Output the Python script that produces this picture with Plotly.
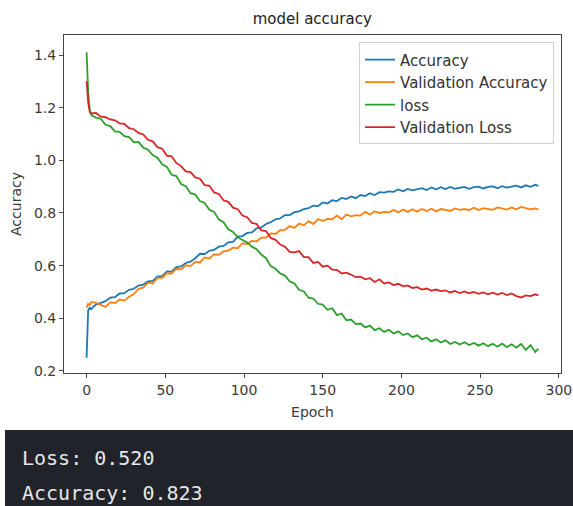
import plotly.graph_objects as go

epochs = [0, 1, 2, 3, 6, 9, 12, 15, 18, 21, 24, 27, 30, 33, 36, 39, 42, 45, 48, 51,
          54, 57, 60, 63, 66, 69, 72, 75, 78, 81, 84, 87, 90, 93, 96, 99, 102, 105, 108, 111,
          114, 117, 120, 123, 126, 129, 132, 135, 138, 141, 144, 147, 150, 153, 156, 159, 162, 165, 168, 171,
          174, 177, 180, 183, 186, 189, 192, 195, 198, 201, 204, 207, 210, 213, 216, 219, 222, 225, 228, 231,
          234, 237, 240, 243, 246, 249, 252, 255, 258, 261, 264, 267, 270, 273, 276, 279, 282, 285, 287]

accuracy = [0.25, 0.43, 0.44, 0.436, 0.452, 0.458, 0.465, 0.478, 0.48, 0.494, 0.495, 0.508, 0.512, 0.524, 0.528, 0.54, 0.542, 0.558, 0.56, 0.578,
            0.577, 0.594, 0.597, 0.61, 0.615, 0.628, 0.645, 0.644, 0.656, 0.66, 0.672, 0.675, 0.688, 0.69, 0.71, 0.712, 0.724, 0.726, 0.742, 0.745,
            0.758, 0.765, 0.776, 0.779, 0.792, 0.792, 0.803, 0.806, 0.815, 0.818, 0.828, 0.826, 0.84, 0.836, 0.848, 0.845, 0.857, 0.853, 0.863, 0.856,
            0.868, 0.864, 0.875, 0.868, 0.879, 0.877, 0.882, 0.88, 0.889, 0.882, 0.891, 0.886, 0.89, 0.894, 0.887, 0.897, 0.89, 0.898, 0.891, 0.899,
            0.892, 0.896, 0.899, 0.892, 0.898, 0.9, 0.893, 0.899, 0.901, 0.894, 0.902, 0.896, 0.9, 0.904, 0.897, 0.905, 0.899, 0.907, 0.903]

val_accuracy = [0.44, 0.455, 0.45, 0.462, 0.458, 0.452, 0.443, 0.46, 0.458, 0.471, 0.467, 0.482, 0.492, 0.512, 0.516, 0.535, 0.532, 0.553, 0.553, 0.571,
                0.57, 0.588, 0.586, 0.601, 0.598, 0.614, 0.612, 0.631, 0.627, 0.643, 0.641, 0.654, 0.657, 0.668, 0.666, 0.685, 0.682, 0.694, 0.692, 0.706,
                0.706, 0.722, 0.72, 0.735, 0.736, 0.75, 0.743, 0.76, 0.753, 0.769, 0.758, 0.776, 0.77, 0.777, 0.776, 0.79, 0.776, 0.794, 0.787, 0.792,
                0.79, 0.804, 0.794, 0.806, 0.8, 0.804, 0.802, 0.811, 0.802, 0.813, 0.804, 0.814, 0.805, 0.815, 0.807, 0.816, 0.806, 0.815, 0.812, 0.808,
                0.817, 0.812, 0.815, 0.811, 0.82, 0.811, 0.818, 0.816, 0.812, 0.821, 0.817, 0.813, 0.821, 0.814, 0.823, 0.819, 0.814, 0.817, 0.813]

loss = [1.41, 1.26, 1.19, 1.172, 1.162, 1.158, 1.135, 1.13, 1.11, 1.108, 1.092, 1.088, 1.068, 1.07, 1.048, 1.04, 1.02, 1.01, 0.985, 0.975,
        0.945, 0.94, 0.91, 0.902, 0.875, 0.87, 0.845, 0.838, 0.812, 0.804, 0.775, 0.765, 0.738, 0.728, 0.708, 0.698, 0.688, 0.672, 0.662, 0.642,
        0.628, 0.598, 0.588, 0.57, 0.562, 0.54, 0.532, 0.508, 0.502, 0.478, 0.475, 0.455, 0.452, 0.432, 0.438, 0.412, 0.418, 0.392, 0.395, 0.378,
        0.38, 0.365, 0.372, 0.355, 0.362, 0.348, 0.356, 0.342, 0.35, 0.336, 0.342, 0.328, 0.335, 0.32, 0.326, 0.312, 0.32, 0.308, 0.316, 0.302,
        0.31, 0.3, 0.309, 0.298, 0.306, 0.296, 0.305, 0.294, 0.303, 0.292, 0.304, 0.29, 0.301, 0.288, 0.302, 0.28, 0.298, 0.272, 0.285]

val_loss = [1.30, 1.22, 1.185, 1.178, 1.18, 1.166, 1.164, 1.155, 1.152, 1.14, 1.138, 1.122, 1.118, 1.104, 1.098, 1.078, 1.072, 1.05, 1.044, 1.018,
            1.015, 0.99, 0.978, 0.958, 0.955, 0.935, 0.93, 0.906, 0.903, 0.878, 0.872, 0.848, 0.842, 0.82, 0.814, 0.79, 0.784, 0.762, 0.758, 0.734,
            0.731, 0.705, 0.698, 0.68, 0.672, 0.652, 0.65, 0.655, 0.632, 0.632, 0.61, 0.614, 0.596, 0.6, 0.585, 0.584, 0.57, 0.573, 0.566, 0.556,
            0.558, 0.548, 0.552, 0.538, 0.548, 0.532, 0.536, 0.526, 0.531, 0.521, 0.525, 0.515, 0.518, 0.509, 0.513, 0.505, 0.509, 0.503, 0.506, 0.498,
            0.504, 0.496, 0.502, 0.495, 0.5, 0.493, 0.498, 0.491, 0.497, 0.49, 0.496, 0.488, 0.494, 0.484, 0.479, 0.487, 0.484, 0.491, 0.487]

series_names = ["Accuracy", "Validation Accuracy", "loss", "Validation Loss"]
series_colors = ["#1f77b4", "#ff7f0e", "#2ca02c", "#d62728"]
x_ticks = [0, 50, 100, 150, 200, 250, 300]
y_ticks = [0.2, 0.4, 0.6, 0.8, 1.0, 1.2, 1.4]
summary_lines = ["Loss: 0.520", "Accuracy: 0.823"]

fig = go.Figure()
for name, vals, col in zip(series_names, [accuracy, val_accuracy, loss, val_loss], series_colors):
    fig.add_trace(go.Scatter(x=epochs, y=vals, mode="lines", name=name,
                             line=dict(color=col, width=1.8)))

axis_common = dict(showline=True, linecolor="#444444", linewidth=1, mirror=True,
                   ticks="outside", ticklen=4, tickcolor="#444444", showgrid=False,
                   zeroline=False, automargin=False,
                   tickfont=dict(family="DejaVu Sans", size=14, color="#3a3a3a"))

fig.update_layout(
    width=573, height=506,
    margin=dict(l=64, r=12, t=35, b=133),
    paper_bgcolor="white", plot_bgcolor="white",
    title=dict(text="model accuracy", x=0.545, xanchor="center", y=0.963, yanchor="middle",
               font=dict(family="DejaVu Sans", size=15, color="#222222")),
    xaxis=dict(range=[-14.35, 301.35], tickvals=x_ticks, ticktext=[str(v) for v in x_ticks],
               title=dict(text="Epoch", standoff=10, font=dict(family="DejaVu Sans", size=14, color="#3a3a3a")),
               **axis_common),
    yaxis=dict(range=[0.192, 1.476], tickvals=y_ticks, ticktext=[f"{v:.1f}" for v in y_ticks],
               title=dict(text="Accuracy", standoff=9, font=dict(family="DejaVu Sans", size=14, color="#3a3a3a")),
               **axis_common),
    legend=dict(x=0.986, y=0.978, xanchor="right", yanchor="top",
                bgcolor="white", bordercolor="#d0d0d0", borderwidth=1,
                font=dict(family="DejaVu Sans", size=15, color="#333333"),
                tracegroupgap=0),
    showlegend=True,
)

fig.add_shape(type="rect", xref="paper", yref="paper",
              x0=-0.1187, x1=1.05, y0=-0.42, y1=-0.1686,
              fillcolor="#202329", line=dict(width=0), layer="above")

for i, txt in enumerate(summary_lines):
    fig.add_annotation(text=txt, xref="paper", yref="paper",
                       x=-0.0885, y=[-0.2515, -0.355][i], xanchor="left", yanchor="middle",
                       showarrow=False,
                       font=dict(family="DejaVu Sans Mono", size=20, color="#e6e6e6"))

fig.write_html("out.html")
